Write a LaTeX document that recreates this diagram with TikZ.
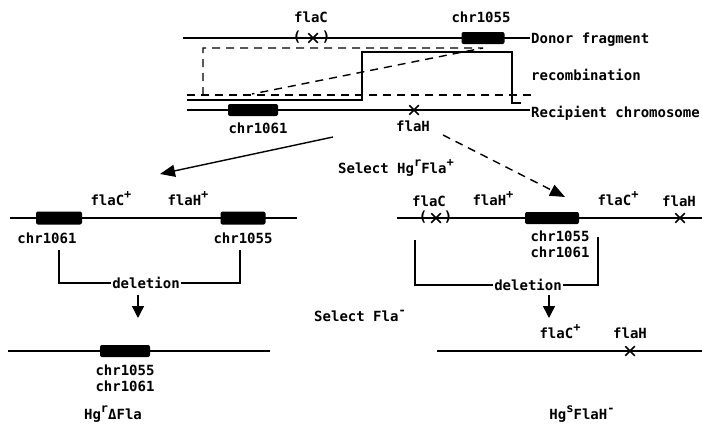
\documentclass[tikz,border=0pt]{standalone}
\usepackage{fontspec}
\setmonofont{DejaVu Sans Mono}
\usepackage{tikz}
\usetikzlibrary{arrows.meta,positioning,shapes.misc}
\newcommand\up[1]{\raisebox{0.5em}{\fontsize{12}{12}\selectfont #1}}

\begin{document}
\begin{tikzpicture}[x=1pt,y=-1pt,>=Latex,
    every node/.style={font=\ttfamily\bfseries\fontsize{14}{15}\selectfont,inner sep=1pt},
    chromo/.style={line width=1.4pt},
    genebox/.style={fill=black,rounded corners=2pt,minimum width=46pt,minimum height=12pt,inner sep=0pt},
    mut/.style={draw,cross out,line width=1.5pt,minimum size=8pt,inner sep=0pt},
    fat/.style={line width=1.4pt,-{Triangle[length=12pt,width=12pt]}}]
  \useasboundingbox (0,0) rectangle (702,426);

  % donor fragment and recipient chromosome
  \node[anchor=west] (donor) at (530,40) {Donor fragment};
  \node[anchor=west] (recomb) at (530,75) {recombination};
  \node[anchor=west] (recip) at (530,113) {Recipient chromosome};
  \coordinate (dstart) at (183,38);
  \coordinate (rstart) at (187,110);
  \draw[chromo] (dstart) -- (donor.west |- dstart);
  \draw[chromo] (rstart) -- (recip.west |- rstart);
  \node[genebox,minimum width=43pt] (b1055) at (483,38) {};
  \node[genebox,minimum width=50pt] (b1061) at (253,110) {};
  \node (flaCtop) at (311,17) {flaC};
  \node (c1055top) at (481,17) {chr1055};
  \node (c1061top) at (258,128) {chr1061};
  \node (flaHtop) at (413,126) {flaH};
  \node[mut] (xCtop) at (313,38) {};
  \node (pl1) at (297,37) {(};
  \node (pr1) at (326,37) {)};
  \node[mut] (xHtop) at (414,110) {};

  % crossover paths
  \coordinate (k1) at (203,95);
  \coordinate (k2) at (203,48);
  \coordinate (k3) at (483,48);
  \coordinate (k4) at (252,94);
  \draw[line width=1.4pt,dash pattern=on 8pt off 6pt] (k1) -- (k2) -- (k3) -- (k4);
  \coordinate (m1) at (187,95);
  \coordinate (m2) at (532,95);
  \draw[line width=1.4pt,dash pattern=on 8pt off 6pt] (m1) -- (m2);
  \coordinate (s1) at (187,100);
  \coordinate (s2) at (362,100);
  \coordinate (s3) at (362,52);
  \coordinate (s4) at (512,52);
  \coordinate (s5) at (512,103);
  \coordinate (s6) at (521,103);
  \draw[chromo] (s1) -- (s2) -- (s3) -- (s4) -- (s5) -- (s6);

  % selection arrows
  \node (selA) at (396,168) {Select Hg\up{r}Fla\up{+}};
  \coordinate (la) at (333,137);
  \coordinate (lb) at (160,174);
  \coordinate (ra) at (443,135);
  \coordinate (rb) at (565,197);
  \draw[line width=1.4pt,-{Triangle[length=15pt,width=12pt]}] (la) -- (lb);
  \draw[line width=1.4pt,dash pattern=on 8pt off 6pt,-{Triangle[length=15pt,width=12pt]}] (ra) -- (rb);

  % left branch
  \coordinate (l1) at (10,218);
  \coordinate (l2) at (297,218);
  \draw[chromo] (l1) -- (l2);
  \node[genebox,minimum height=13pt] (bL1061) at (59,218) {};
  \node[genebox,minimum height=13pt,minimum width=45pt] (bL1055) at (243,218) {};
  \node (flaCpL) at (111,199) {flaC\up{+}};
  \node (flaHpL) at (188,199) {flaH\up{+}};
  \node (cL1061) at (47,238) {chr1061};
  \node (cL1055) at (243,238) {chr1055};
  \node (delL) at (146,283) {deletion};
  \coordinate (dl1) at (59,250);
  \coordinate (dl2) at (240,250);
  \draw[line width=1.2pt] (dl1) -- (dl1 |- delL) -- (delL.west);
  \draw[line width=1.2pt] (delL.east) -- (dl2 |- delL) -- (dl2);
  \coordinate (al1) at (138,295);
  \coordinate (al2) at (138,318);
  \draw[fat] (al1) -- (al2);

  \coordinate (ll1) at (8,351);
  \coordinate (ll2) at (270,351);
  \draw[chromo] (ll1) -- (ll2);
  \node[genebox,minimum width=50pt] (bLL) at (125,351) {};
  \node (cLL1055) at (125,370) {chr1055};
  \node (cLL1061) at (125,386) {chr1061};
  \node (hgL) at (113,414) {Hg\up{r}ΔFla};

  \node (selB) at (360,316) {Select Fla\up{-}};

  % right branch
  \coordinate (r1) at (397,218);
  \coordinate (r2) at (702,218);
  \draw[chromo] (r1) -- (r2);
  \node[genebox,minimum width=54pt] (bR) at (552,218) {};
  \node (flaCR) at (429,201) {flaC};
  \node[mut] (xCR) at (436,218) {};
  \node (pl2) at (423,217) {(};
  \node (pr2) at (448,217) {)};
  \node (flaHpR) at (493,199) {flaH\up{+}};
  \node (flaCpR) at (618,199) {flaC\up{+}};
  \node (flaHR) at (679,201) {flaH};
  \node[mut] (xHR) at (680,218) {};
  \node (cR1055) at (560,236) {chr1055};
  \node (cR1061) at (560,252) {chr1061};
  \node (delR) at (528,285) {deletion};
  \coordinate (dr1) at (415,240);
  \coordinate (dr2) at (598,237);
  \draw[line width=1.2pt] (dr1) -- (dr1 |- delR) -- (delR.west);
  \draw[line width=1.2pt] (delR.east) -- (dr2 |- delR) -- (dr2);
  \coordinate (ar1) at (549,295);
  \coordinate (ar2) at (549,318);
  \draw[fat] (ar1) -- (ar2);

  \coordinate (rr1) at (437,351);
  \coordinate (rr2) at (702,351);
  \draw[chromo] (rr1) -- (rr2);
  \node (flaCpRR) at (560,332) {flaC\up{+}};
  \node (flaHRR) at (630,333) {flaH};
  \node[mut] (xHRR) at (630,351) {};
  \node (hgR) at (582,414) {Hg\up{s}FlaH\up{-}};
\end{tikzpicture}
\end{document}
